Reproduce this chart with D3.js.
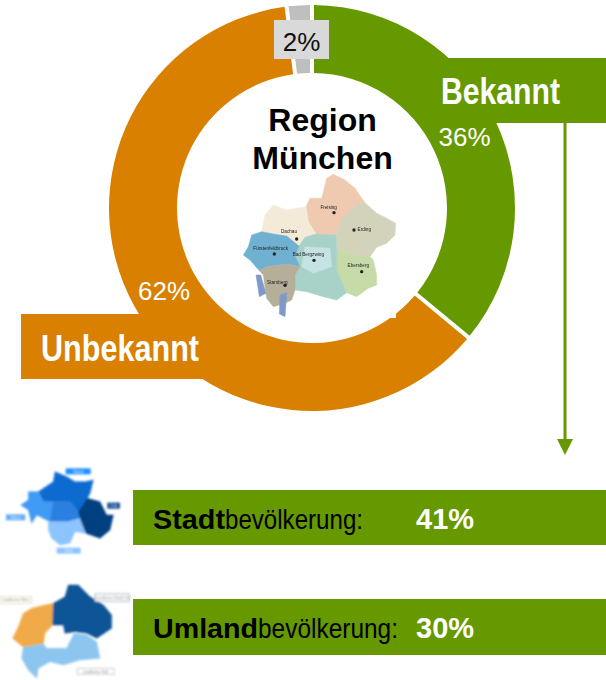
<!DOCTYPE html>
<html><head><meta charset="utf-8">
<script src="https://cdn.jsdelivr.net/npm/d3@7"></script>
<style>html,body{margin:0;padding:0;background:#fff}svg{display:block}text{font-family:"Liberation Sans",Arial,sans-serif}</style>
</head><body><svg id="c" width="606" height="680"></svg>
<script>
const categories = ["Bekannt", "Unbekannt", "Sonstige"];
const shares = [36, 62, 2];
const ringColors = ["#669900", "#d98000", "#bfbfbf"];
const groups = ["Stadt", "Umland"];
const groupSuffix = "bevölkerung:";
const groupValues = [41, 30];

// Decorative map thumbnails (outlines traced in zoomed-crop pixels)
const regionMap = [
 {c:"#efc9b0",p:[[228,140],[240,115],[275,115],[290,55],[310,43],[345,60],[375,85],[385,100],[405,128],[380,135],[345,165],[325,200],[318,225],[258,222],[235,185]]},
 {c:"#f3ead8",p:[[95,215],[105,165],[130,135],[170,150],[228,140],[235,185],[258,222],[225,232],[207,258],[170,228],[130,222]]},
 {c:"#d3d3bb",p:[[345,165],[380,135],[405,128],[440,160],[470,175],[497,190],[495,225],[470,250],[440,262],[420,290],[385,290],[320,265],[318,225],[325,200]]},
 {c:"#c6dba8",p:[[320,265],[385,290],[420,290],[430,300],[440,345],[440,375],[415,385],[380,410],[350,398],[320,330]]},
 {c:"#a8d1c8",p:[[258,222],[318,225],[320,265],[320,330],[350,398],[320,420],[280,410],[230,395],[195,390],[195,345],[210,320],[195,288],[207,258],[225,232]]},
 {c:"#c5e3e3",p:[[225,260],[300,265],[305,320],[250,340],[215,320]]},
 {c:"#6fb0d0",p:[[65,225],[95,215],[130,222],[170,228],[207,258],[195,288],[210,320],[170,312],[110,320],[88,332],[60,300],[40,285],[55,260]]},
 {c:"#b5ae98",p:[[88,332],[110,320],[170,312],[210,320],[195,345],[195,390],[185,420],[165,430],[130,440],[110,415],[100,345]]},
 {c:"#8099c8",p:[[78,345],[92,345],[108,400],[88,410]]},
 {c:"#8099c8",p:[[150,405],[170,398],[165,470],[148,462]]}
];
const regionTowns = [
 {t:"Freising",x:296,y:146,dx:312,dy:158},{t:"Dachau",x:177,y:220,dx:200,dy:237},
 {t:"Erding",x:403,y:212,dx:372,dy:210},{t:"Fürstenfeldbruck",x:122,y:271,dx:133,dy:282},
 {t:"Bad Bergzwing",x:235,y:288,dx:252,dy:301},{t:"Ebersberg",x:385,y:322,dx:395,dy:335},
 {t:"Starnberg",x:142,y:371,dx:165,dy:376}
];
const cityMap = [
 {c:"#0a6bd0",p:[[115,125],[160,95],[165,65],[200,80],[225,95],[255,95],[280,90],[270,130],[262,145],[235,185],[210,155],[160,155],[130,155]]},
 {c:"#3f9bf5",p:[[85,125],[115,125],[130,155],[160,155],[150,215],[110,195],[95,220],[85,180],[62,165],[85,150]]},
 {c:"#2b7fe0",p:[[160,155],[210,155],[235,185],[240,205],[205,215],[150,215]]},
 {c:"#8cc4ff",p:[[145,215],[205,215],[240,205],[258,250],[225,245],[210,280],[180,285],[155,265],[145,240]]},
 {c:"#063f80",p:[[235,185],[262,145],[300,155],[320,195],[340,195],[330,240],[300,265],[258,250],[240,205]]}
];
const cityTags = [
 {t:"Nord",x:197,y:55,w:75,h:18,c:"#1e90ff"},{t:"Ost",x:322,y:158,w:38,h:18,c:"#0a4f90"},
 {t:"West",x:18,y:193,w:58,h:18,c:"#66aff5"},{t:"Süd",x:170,y:293,w:72,h:18,c:"#8cc4ff"}
];
const ringMap = [
 {c:"#f0aa48",p:[[95,115],[135,105],[160,100],[158,165],[135,190],[130,222],[70,232],[38,205],[55,170],[70,130]]},
 {c:"#0f5596",p:[[160,100],[195,80],[205,45],[235,45],[270,80],[310,105],[335,135],[335,175],[290,205],[260,190],[225,185],[195,190],[190,165],[158,165]]},
 {c:"#8cc6ee",p:[[70,232],[130,222],[140,235],[200,235],[222,190],[260,195],[290,215],[300,265],[240,270],[190,285],[150,275],[115,295],[110,325],[85,300],[65,265]]}
];
const ringTags = [
 {t:"Landkreise West",x:0,y:80,w:95,h:20,c:"#e8dcae"},{t:"Landkreise Nord-Ost",x:285,y:72,w:103,h:22,c:"#aab2c4"},
 {t:"Landkreise Süd",x:232,y:295,w:110,h:18,c:"#cccccc"}
];

const svg = d3.select("#c");
const defs = svg.append("defs");
[["b0",1.7],["b1",2.4],["b2",2.4]].forEach(([id,s])=>defs.append("filter").attr("id",id)
  .attr("x","-10%").attr("y","-10%").attr("width","120%").attr("height","120%")
  .append("feGaussianBlur").attr("stdDeviation",s));

const cx = 312, cy = 208, rOuter = 203, rInner = 135;
const pie = d3.pie().sort(null).value(d=>d);
const arc = d3.arc().innerRadius(rInner).outerRadius(rOuter).padRadius(rOuter).padAngle(4/rOuter);
const ring = svg.append("g").attr("transform",`translate(${cx},${cy})`);
ring.selectAll("path").data(pie(shares)).join("path").attr("d",arc).attr("fill",(d,i)=>ringColors[i]);

// Banners
svg.append("rect").attr("x",445).attr("y",58).attr("width",161).attr("height",65).attr("fill",ringColors[0]);
svg.append("rect").attr("x",21).attr("y",314).attr("width",184).attr("height",65).attr("fill",ringColors[1]);

// white map backing, nips the ring slightly at its corner
svg.append("rect").attr("x",243).attr("y",170).attr("width",153).attr("height",148).attr("fill","#fff");

const line = d3.line().curve(d3.curveLinearClosed);
function drawMap(shapes, ox, oy, filt){
  const g = svg.append("g").attr("transform",`translate(${ox},${oy}) scale(${1/3})`).attr("filter",`url(#${filt})`);
  g.selectAll("path").data(shapes).join("path").attr("d",d=>line(d.p)).attr("fill",d=>d.c)
    .attr("stroke",d=>d.c).attr("stroke-width",1.5);
  return g;
}
const g1 = drawMap(regionMap,230,160,"b0");
g1.selectAll("circle").data(regionTowns).join("circle").attr("cx",d=>d.dx).attr("cy",d=>d.dy).attr("r",5).attr("fill","#222");
g1.selectAll("text").data(regionTowns).join("text").attr("x",d=>d.x).attr("y",d=>d.y).attr("text-anchor","middle")
  .attr("font-size",14).attr("fill","#222").text(d=>d.t);

const g2 = drawMap(cityMap,0,450,"b1");
g2.selectAll("rect").data(cityTags).join("rect").attr("x",d=>d.x).attr("y",d=>d.y).attr("width",d=>d.w).attr("height",d=>d.h).attr("fill",d=>d.c);
g2.selectAll("text").data(cityTags).join("text").attr("x",d=>d.x+d.w/2).attr("y",d=>d.y+14).attr("text-anchor","middle")
  .attr("font-size",13).attr("fill","#eaf3ff").text(d=>d.t);

const g3 = drawMap(ringMap,0,570,"b2");
g3.selectAll("rect").data(ringTags).join("rect").attr("x",d=>d.x).attr("y",d=>d.y).attr("width",d=>d.w).attr("height",d=>d.h)
  .attr("fill","#fff").attr("stroke",d=>d.c).attr("stroke-width",3);
g3.selectAll("text").data(ringTags).join("text").attr("x",d=>d.x+d.w/2).attr("y",d=>d.y+d.h/2+4).attr("text-anchor","middle")
  .attr("font-size",11).attr("fill","#777").text(d=>d.t);

// Ring labels
svg.append("rect").attr("x",274).attr("y",20).attr("width",55).attr("height",39).attr("fill","#d9d9d9");
const T = (x,y,s,size,fill,opt={})=>svg.append("text").attr("x",x).attr("y",y).attr("font-size",size).attr("fill",fill)
  .attr("font-weight",opt.w||400).attr("text-anchor",opt.a||"start").text(s);
T(301.5,51,shares[2]+"%",26,"#111",{a:"middle"});
T(464.5,146,shares[0]+"%",26,"#fff",{a:"middle"});
T(164,300,shares[1]+"%",26,"#fff",{a:"middle"});
T(441,104,categories[0],37,"#fff",{w:700}).attr("textLength",119).attr("lengthAdjust","spacingAndGlyphs");
T(41,361,categories[1],37,"#fff",{w:700}).attr("textLength",158).attr("lengthAdjust","spacingAndGlyphs");
T(322.5,131,"Region",32,"#000",{w:700,a:"middle"});
T(322.5,169,"München",32,"#000",{w:700,a:"middle"});

// Arrow
svg.append("line").attr("x1",565).attr("x2",565).attr("y1",123).attr("y2",440).attr("stroke",ringColors[0]).attr("stroke-width",3);
svg.append("path").attr("d",d3.line()([[557,439],[573,439],[565,455]])+"Z").attr("fill",ringColors[0]);

// Bottom bars
const barY = d3.scaleOrdinal().domain(groups).range([490,599]);
const barH = d3.scaleOrdinal().domain(groups).range([55,56]);
const boldW = {Stadt:72,Umland:105}, restW = {Stadt:138,Umland:140};
groups.forEach((g,i)=>{
  const y = barY(g);
  svg.append("rect").attr("x",133).attr("y",y).attr("width",473).attr("height",barH(g)).attr("fill",ringColors[0]);
  const by = y+39;
  T(153,by,g,28,"#000",{w:700}).attr("textLength",boldW[g]).attr("lengthAdjust","spacingAndGlyphs");
  T(153+boldW[g],by,groupSuffix,28,"#000").attr("textLength",restW[g]).attr("lengthAdjust","spacingAndGlyphs");
  T(416,by,groupValues[i]+"%",29,"#fff",{w:700});
});
</script></body></html>
